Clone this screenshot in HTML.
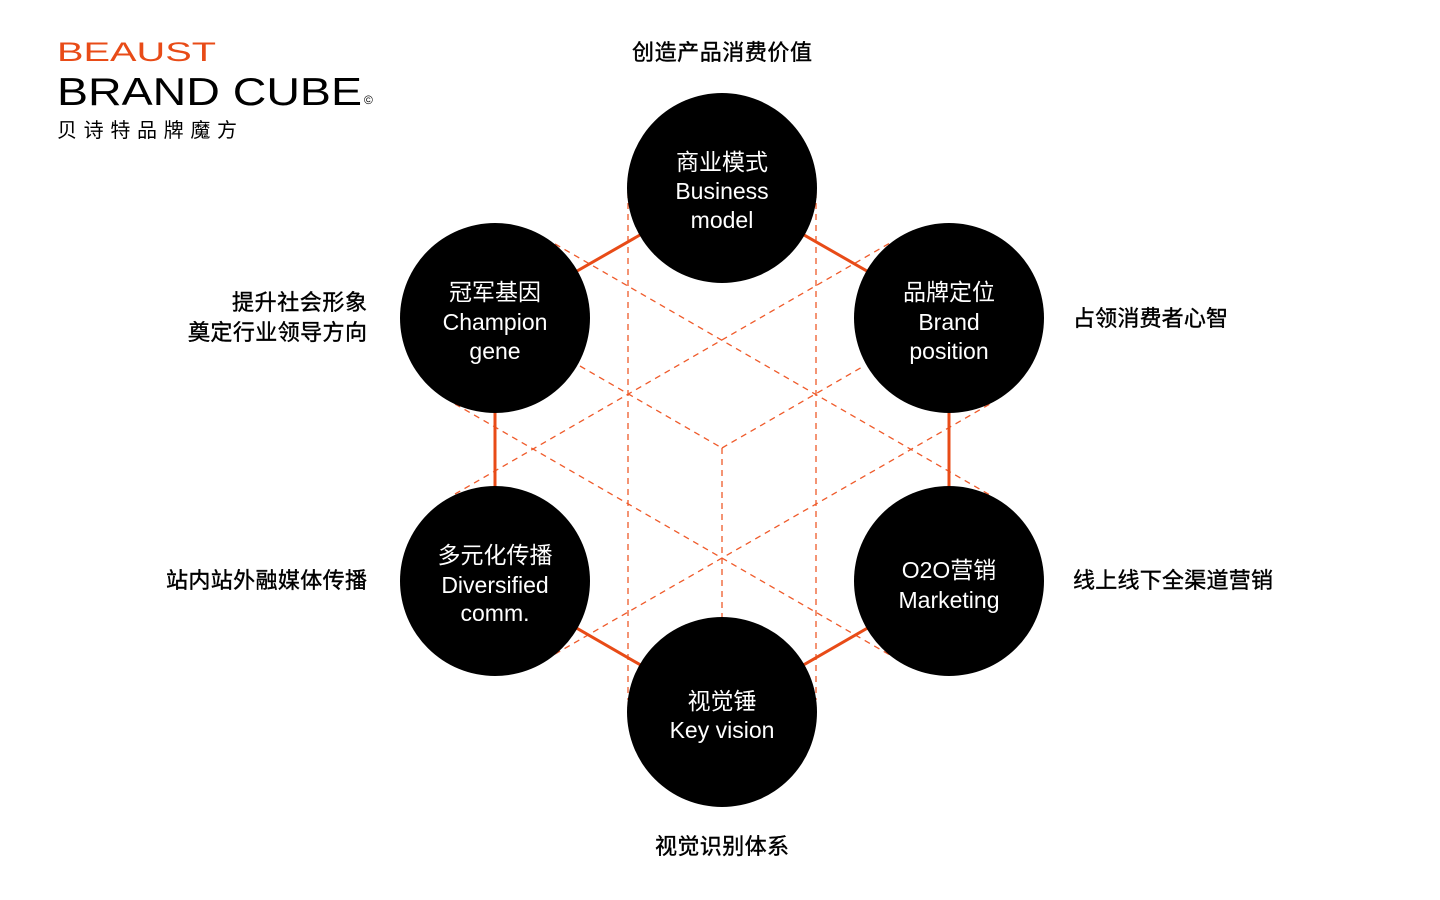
<!DOCTYPE html>
<html><head><meta charset="utf-8"><style>
html,body{margin:0;padding:0;background:#fff;}
svg{display:block;}
text{font-family:"Liberation Sans","Noto Sans CJK SC",sans-serif;}
</style></head><body>
<svg width="1440" height="900" viewBox="0 0 1440 900" xmlns="http://www.w3.org/2000/svg">
<g stroke="#ef5a2a" stroke-width="1.3" stroke-dasharray="6,5" fill="none">
<line x1="628" y1="192" x2="628" y2="700"/>
<line x1="816" y1="192" x2="816" y2="700"/>
<line x1="555" y1="244" x2="990" y2="495"/>
<line x1="455" y1="404" x2="890" y2="655"/>
<line x1="455" y1="494" x2="890" y2="243"/>
<line x1="555" y1="654" x2="990" y2="404"/>
<line x1="580" y1="366" x2="722" y2="448"/>
<line x1="722" y1="448" x2="864" y2="366"/>
<line x1="722" y1="448" x2="722" y2="620"/>
</g>
<g stroke="#e84b17" stroke-width="3" fill="none">
<polygon points="722,188 949,318 949,581 722,712 495,581 495,318"/>
</g>
<g fill="#000">
<circle cx="722" cy="188" r="95"/>
<circle cx="949" cy="318" r="95"/>
<circle cx="949" cy="581" r="95"/>
<circle cx="722" cy="712" r="95"/>
<circle cx="495" cy="581" r="95"/>
<circle cx="495" cy="318" r="95"/>
</g>
<g fill="#fff" font-size="23" text-anchor="middle">
<text x="722" y="170">商业模式</text>
<text x="722" y="199">Business</text>
<text x="722" y="228">model</text>
<text x="495" y="300">冠军基因</text>
<text x="495" y="330">Champion</text>
<text x="495" y="359">gene</text>
<text x="949" y="300">品牌定位</text>
<text x="949" y="330">Brand</text>
<text x="949" y="359">position</text>
<text x="495" y="563">多元化传播</text>
<text x="495" y="593">Diversified</text>
<text x="495" y="621">comm.</text>
<text x="949" y="578">O2O营销</text>
<text x="949" y="608">Marketing</text>
<text x="722" y="709">视觉锤</text>
<text x="722" y="738">Key vision</text>
</g>
<g fill="#000" stroke="#000" stroke-width="0.4" font-size="22">
<text x="632" y="60" textLength="180">创造产品消费价值</text>
<text x="655" y="854" textLength="134">视觉识别体系</text>
<text x="1073" y="326" textLength="155">占领消费者心智</text>
<text x="1073" y="588" textLength="200">线上线下全渠道营销</text>
<text x="232" y="310" textLength="135">提升社会形象</text>
<text x="188" y="340" textLength="179">奠定行业领导方向</text>
<text x="166" y="588" textLength="201">站内站外融媒体传播</text>
</g>
<text x="57" y="61" font-size="27" fill="#e84b17" textLength="159" lengthAdjust="spacingAndGlyphs">BEAUST</text>
<text x="57" y="105" font-size="39" fill="#000" textLength="305" lengthAdjust="spacingAndGlyphs">BRAND CUBE</text>
<text x="364" y="104" font-size="12" fill="#000">©</text>
<text x="57" y="137" font-size="20" fill="#000" textLength="180">贝诗特品牌魔方</text>
</svg>
</body></html>
